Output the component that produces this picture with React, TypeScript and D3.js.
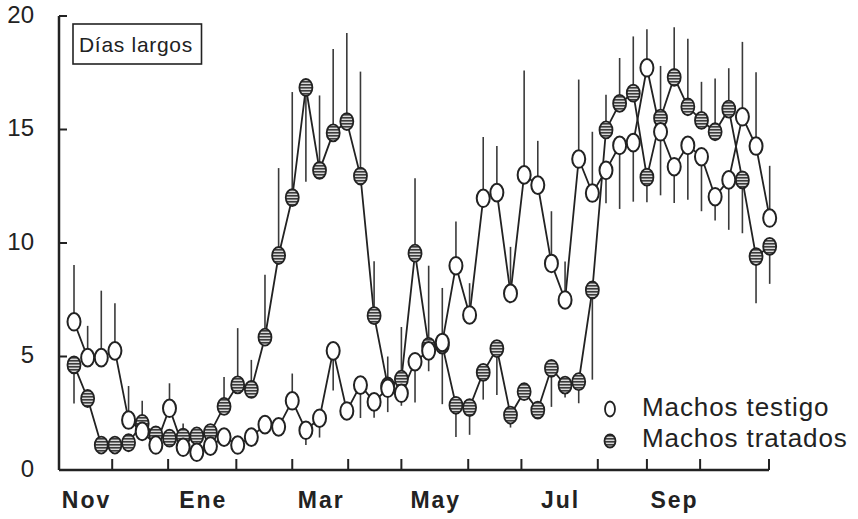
import React from "react";
import * as d3 from "d3";

// Weekly samples (index = week from early November)
const testigo = [6.53,4.95,4.95,5.25,2.2,1.7,1.1,2.72,1.0,0.78,1.05,1.45,1.1,1.45,2.0,1.9,3.05,1.75,2.28,5.25,2.6,3.74,3.0,3.6,3.38,4.77,5.25,5.62,9.0,6.83,11.97,12.22,7.78,13.0,12.55,9.1,7.49,13.7,12.2,13.2,14.3,14.42,17.72,14.9,13.36,14.3,13.8,12.04,12.78,15.56,14.27,11.1];
const testigoErr = [2.5,1.4,2.95,2.1,1.5,0,0,1.1,0,0,0,0,0,0,0,0,1.2,-0.65,-0.85,-1.75,0,-1.45,-0.7,-1.05,-0.55,-1.8,-0.9,2.4,1.95,1.4,2.7,2.05,2.05,4.6,1.95,2.3,1.7,3.5,2.7,-1.45,-2.8,-2.6,1.7,-2.8,-1.6,-2.4,-2.4,-1.05,-2.2,3.3,3.25,2.3];
const tratado = [4.63,3.15,1.1,1.1,1.2,2.05,1.55,1.4,1.45,1.5,1.65,2.8,3.75,3.55,5.85,9.45,12.0,16.85,13.2,14.85,15.35,12.95,6.8,3.7,4.0,9.55,5.45,5.5,2.85,2.75,4.3,5.35,2.42,3.45,2.64,4.48,3.74,3.89,7.93,14.98,16.15,16.6,12.9,15.5,17.3,16.0,15.4,14.9,15.9,12.78,9.4,9.85];
const tratadoErr = [-1.7,0,0,0,0,1.0,0,0,0.6,0,0,1.3,2.5,1.3,2.75,3.85,4.65,-4.15,3.3,3.7,3.9,4.6,2.4,1.3,2.3,3.3,3.55,-2.6,-1.4,-1.2,-1.2,-2.05,-0.55,0,0,-1.7,-0.55,-0.95,-3.95,1.55,2.0,2.5,-1.1,2.3,2.2,3.0,1.7,2.35,1.8,-2.35,-2.05,-1.65];

// Month boundaries in week units and labels
const xStart = -1.1;
const monthTicks = [2.8, 6.9, 11.9, 16.0, 20.1, 24.0, 28.9, 32.8, 38.4, 42.0, 45.9, 50.95];
const monthLabels = ["Nov", "", "Ene", "", "Mar", "", "May", "", "Jul", "", "Sep", ""];
const yTicks = [0, 5, 10, 15, 20];

const FONT = "'Liberation Sans', Arial, Helvetica, sans-serif";

export default function App() {
  const W = 858, H = 519;
  const x = d3.scaleLinear().domain([xStart, monthTicks[monthTicks.length - 1]]).range([59, 769]);
  const y = d3.scaleLinear().domain([0, 20]).range([470, 16]);
  const line = d3.line<number>().x((_, i) => x(i)).y((d) => y(d));
  const bounds = [xStart, ...monthTicks];

  const bars = (vals: number[], errs: number[], key: string) =>
    vals.map((v, i) =>
      errs[i] !== 0 ? (
        <line key={key + i} x1={x(i)} x2={x(i)} y1={y(v)} y2={y(v + errs[i])} stroke="#3a3a3a" strokeWidth={1.6} />
      ) : null
    );

  return (
    <svg width={W} height={H} style={{ position: "absolute", left: 0, top: 0, background: "#fff" }} fontFamily={FONT}>
      <defs>
        <pattern id="hatch" width="4" height="3" patternUnits="userSpaceOnUse">
          <rect width="4" height="3" fill="#d8d8d8" />
          <rect width="4" height="1.6" fill="#3c3c3c" />
        </pattern>
      </defs>
      <rect width={W} height={H} fill="#fff" />

      {/* axes */}
      <line x1={59} x2={59} y1={y(20)} y2={y(0)} stroke="#222" strokeWidth={2.5} />
      <line x1={59} x2={769} y1={y(0)} y2={y(0)} stroke="#222" strokeWidth={2.5} />
      {yTicks.filter((t) => t > 0).map((t) => (
        <line key={"yt" + t} x1={59} x2={67} y1={y(t)} y2={y(t)} stroke="#222" strokeWidth={2} />
      ))}
      {yTicks.map((t) => (
        <text key={"yl" + t} x={34} y={y(t) - 2} textAnchor="end" dominantBaseline="central" fontSize={24} fill="#222">
          {t}
        </text>
      ))}
      {monthTicks.map((t, i) => (
        <line key={"xt" + i} x1={x(t)} x2={x(t)} y1={y(0)} y2={y(0) - 11} stroke="#222" strokeWidth={2} />
      ))}
      {monthLabels.map((lab, i) =>
        lab ? (
          <text key={"xl" + i} x={x((bounds[i] + bounds[i + 1]) / 2) + 1} y={508} textAnchor="middle" fontSize={23} fontWeight="bold" letterSpacing={2} fill="#222">
            {lab}
          </text>
        ) : null
      )}

      {/* label box */}
      <rect x={73} y={24} width={128.5} height={40} fill="#fff" stroke="#222" strokeWidth={1.6} />
      <text x={79} y={52} fontSize={21} letterSpacing={0.7} fill="#222">Días largos</text>

      {/* lines */}
      <path d={line(tratado) || ""} fill="none" stroke="#222" strokeWidth={1.8} />
      <path d={line(testigo) || ""} fill="none" stroke="#222" strokeWidth={1.8} />

      {/* error bars */}
      {bars(tratado, tratadoErr, "bt")}
      {bars(testigo, testigoErr, "bo")}

      {/* markers */}
      {tratado.map((v, i) => (
        <ellipse key={"mt" + i} cx={x(i)} cy={y(v)} rx={6.5} ry={8.5} fill="url(#hatch)" stroke="#222" strokeWidth={1.8} />
      ))}
      {testigo.map((v, i) => (
        <ellipse key={"mo" + i} cx={x(i)} cy={y(v)} rx={6.5} ry={8.8} fill="#fff" stroke="#222" strokeWidth={2} />
      ))}

      {/* legend */}
      <ellipse cx={610} cy={409} rx={5} ry={7.5} fill="#fff" stroke="#222" strokeWidth={1.8} />
      <text x={642} y={416} fontSize={26} letterSpacing={0.9} fill="#222">Machos testigo</text>
      <ellipse cx={610} cy={441} rx={5.5} ry={6.5} fill="url(#hatch)" stroke="#222" strokeWidth={1.8} />
      <text x={642} y={447} fontSize={26} letterSpacing={0.9} fill="#222">Machos tratados</text>
    </svg>
  );
}
